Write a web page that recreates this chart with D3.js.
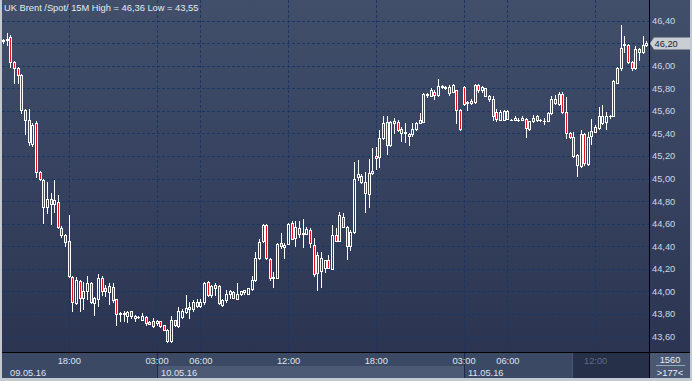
<!DOCTYPE html>
<html>
<head>
<meta charset="utf-8">
<script src="https://cdn.jsdelivr.net/npm/d3@7"></script>
<style>
  body { margin: 0; background: #fff; }
  svg { display: block; }
  text { font-family: "Liberation Sans", Arial, sans-serif; font-size: 9.3px; }
</style>
</head>
<body>
<div id="chart"></div>
<script>
const title = 'UK Brent /Spot/ 15M High = 46,36 Low = 43,55';
const sessions = [
  { date: '09.05.16', start: '13:30', bars: 42 },
  { date: '10.05.16', start: '03:00', bars: 84 },
  { date: '11.05.16', start: '03:00', bars: 51 }
];
const timeTicks = ['03:00', '06:00', '12:00', '18:00'];
const priceTicks = [43.6, 43.8, 44.0, 44.2, 44.4, 44.6, 44.8, 45.0, 45.2, 45.4, 45.6, 45.8, 46.0, 46.2, 46.4];
const lastPrice = 46.20;
const totalBars = '1560';
const shownBars = '>177<';

const opens = [
  46.23, 46.23, 46.25, 46.03, 45.98, 45.92, 45.61, 45.52, 45.31, 45.49,
  45.06, 44.99, 44.75, 44.82, 44.77, 44.79, 44.56, 44.50, 44.45, 44.13,
  43.90, 44.09, 43.94, 44.00, 44.07, 43.90, 43.93, 44.12, 44.03, 43.99,
  44.04, 43.93, 43.80, 43.80, 43.78, 43.83, 43.76, 43.77, 43.75, 43.77,
  43.73, 43.74, 43.72, 43.74, 43.70, 43.66, 43.56, 43.75, 43.69, 43.77,
  43.82, 43.86, 43.84, 43.91, 43.87, 43.91, 44.08, 43.97, 44.06, 44.05,
  43.88, 43.92, 43.98, 43.99, 43.93, 43.98, 43.99, 43.98, 44.02, 44.10,
  44.30, 44.45, 44.59, 44.29, 44.12, 44.12, 44.43, 44.39, 44.42, 44.61,
  44.47, 44.56, 44.51, 44.51, 44.54, 44.41, 44.32, 44.18, 44.21, 44.28,
  44.20, 44.50, 44.45, 44.66, 44.57, 44.40, 44.53, 45.01, 45.02, 44.97,
  44.86, 45.05, 45.20, 45.19, 45.36, 45.50, 45.30, 45.49, 45.50, 45.44,
  45.40, 45.39, 45.39, 45.44, 45.49, 45.50, 45.74, 45.73, 45.77, 45.74,
  45.81, 45.80, 45.81, 45.77, 45.78, 45.61, 45.81, 45.68, 45.67, 45.68,
  45.83, 45.78, 45.80, 45.73, 45.70, 45.59, 45.52, 45.52, 45.60, 45.52,
  45.52, 45.52, 45.52, 45.53, 45.44, 45.51, 45.55, 45.52, 45.51, 45.51,
  45.58, 45.70, 45.66, 45.75, 45.59, 45.40, 45.37, 45.21, 45.11, 45.39,
  45.13, 45.38, 45.41, 45.45, 45.49, 45.50, 45.55, 45.55, 45.85, 45.98,
  46.18, 46.18, 46.03, 45.98, 46.15, 46.12, 46.18
];
const highs = [
  46.24, 46.29, 46.27, 46.04, 45.99, 45.93, 45.62, 45.62, 45.49, 45.51,
  45.07, 45.00, 44.97, 44.87, 44.99, 44.85, 44.58, 44.51, 44.68, 44.14,
  44.13, 44.10, 44.08, 44.14, 44.08, 43.95, 44.15, 44.14, 44.06, 44.07,
  44.07, 43.93, 43.82, 43.83, 43.83, 43.83, 43.79, 43.78, 43.81, 43.78,
  43.74, 43.76, 43.75, 43.74, 43.70, 43.67, 43.78, 43.75, 43.86, 43.84,
  43.97, 43.91, 43.92, 43.93, 43.93, 44.08, 44.09, 44.06, 44.07, 44.06,
  43.93, 44.01, 44.01, 44.00, 44.07, 44.00, 44.01, 44.03, 44.14, 44.35,
  44.46, 44.60, 44.60, 44.30, 44.17, 44.43, 44.52, 44.43, 44.61, 44.62,
  44.62, 44.62, 44.64, 44.57, 44.56, 44.47, 44.35, 44.35, 44.28, 44.32,
  44.59, 44.56, 44.70, 44.69, 44.58, 44.54, 45.15, 45.16, 45.04, 45.06,
  45.17, 45.27, 45.28, 45.43, 45.55, 45.55, 45.51, 45.54, 45.52, 45.46,
  45.49, 45.40, 45.49, 45.50, 45.58, 45.76, 45.76, 45.80, 45.78, 45.88,
  45.83, 45.82, 45.83, 45.84, 45.78, 45.62, 45.82, 45.69, 45.70, 45.84,
  45.84, 45.82, 45.80, 45.74, 45.73, 45.62, 45.61, 45.61, 45.61, 45.53,
  45.55, 45.54, 45.55, 45.54, 45.51, 45.56, 45.56, 45.53, 45.54, 45.59,
  45.73, 45.74, 45.77, 45.77, 45.72, 45.41, 45.41, 45.22, 45.43, 45.40,
  45.41, 45.53, 45.47, 45.63, 45.65, 45.59, 45.56, 45.87, 45.99, 46.36,
  46.26, 46.19, 46.04, 46.17, 46.16, 46.26, 46.22
];
const lows = [
  46.20, 46.18, 45.99, 45.85, 45.85, 45.58, 45.39, 45.30, 45.29, 45.01,
  44.99, 44.61, 44.69, 44.60, 44.70, 44.56, 44.48, 44.40, 44.13, 43.83,
  43.89, 43.83, 43.84, 43.93, 43.90, 43.79, 43.87, 43.97, 43.96, 43.89,
  43.91, 43.70, 43.74, 43.74, 43.73, 43.76, 43.74, 43.76, 43.75, 43.70,
  43.71, 43.68, 43.70, 43.68, 43.66, 43.55, 43.55, 43.69, 43.68, 43.76,
  43.81, 43.76, 43.83, 43.86, 43.86, 43.89, 43.96, 43.95, 43.97, 43.89,
  43.87, 43.91, 43.94, 43.94, 43.93, 43.97, 43.98, 43.98, 44.01, 44.09,
  44.29, 44.44, 44.29, 44.10, 44.04, 44.12, 44.38, 44.30, 44.42, 44.46,
  44.40, 44.48, 44.39, 44.51, 44.39, 44.14, 44.01, 44.04, 44.17, 44.21,
  44.20, 44.45, 44.45, 44.57, 44.29, 44.37, 44.52, 44.99, 44.96, 44.70,
  44.75, 45.04, 45.08, 45.10, 45.35, 45.22, 45.29, 45.40, 45.42, 45.33,
  45.32, 45.30, 45.38, 45.43, 45.49, 45.50, 45.72, 45.73, 45.70, 45.73,
  45.80, 45.79, 45.74, 45.77, 45.49, 45.43, 45.65, 45.61, 45.66, 45.67,
  45.77, 45.77, 45.73, 45.69, 45.52, 45.51, 45.52, 45.52, 45.53, 45.52,
  45.52, 45.51, 45.52, 45.37, 45.43, 45.50, 45.51, 45.51, 45.48, 45.51,
  45.57, 45.66, 45.65, 45.58, 45.36, 45.36, 45.19, 45.02, 45.10, 45.12,
  45.12, 45.31, 45.41, 45.44, 45.48, 45.44, 45.54, 45.55, 45.85, 45.96,
  46.12, 46.02, 45.96, 45.97, 46.05, 46.11, 46.17
];
const closes = [
  46.22, 46.24, 46.03, 45.98, 45.92, 45.61, 45.52, 45.32, 45.47, 45.06,
  45.00, 44.75, 44.82, 44.77, 44.81, 44.57, 44.50, 44.44, 44.14, 43.91,
  44.10, 43.94, 44.00, 44.07, 43.91, 43.94, 44.12, 44.00, 44.00, 44.05,
  43.92, 43.80, 43.81, 43.81, 43.82, 43.78, 43.78, 43.77, 43.78, 43.72,
  43.71, 43.69, 43.74, 43.69, 43.66, 43.56, 43.75, 43.70, 43.83, 43.83,
  43.85, 43.84, 43.91, 43.87, 43.91, 44.07, 43.97, 44.05, 44.03, 43.90,
  43.92, 43.98, 44.00, 43.94, 43.98, 44.00, 44.01, 44.03, 44.10, 44.30,
  44.44, 44.59, 44.30, 44.12, 44.13, 44.42, 44.40, 44.41, 44.60, 44.46,
  44.57, 44.51, 44.52, 44.55, 44.43, 44.15, 44.16, 44.30, 44.28, 44.21,
  44.50, 44.45, 44.68, 44.57, 44.40, 44.53, 45.00, 45.04, 44.97, 44.87,
  45.05, 45.07, 45.18, 45.36, 45.49, 45.30, 45.50, 45.51, 45.43, 45.40,
  45.41, 45.38, 45.44, 45.49, 45.52, 45.75, 45.75, 45.78, 45.74, 45.82,
  45.82, 45.81, 45.76, 45.83, 45.61, 45.44, 45.66, 45.67, 45.69, 45.83,
  45.78, 45.81, 45.73, 45.70, 45.55, 45.53, 45.59, 45.60, 45.53, 45.52,
  45.54, 45.52, 45.54, 45.45, 45.51, 45.54, 45.52, 45.52, 45.51, 45.58,
  45.70, 45.67, 45.75, 45.59, 45.40, 45.37, 45.20, 45.12, 45.39, 45.14,
  45.37, 45.42, 45.46, 45.55, 45.55, 45.55, 45.55, 45.86, 45.98, 46.16,
  46.19, 46.03, 45.98, 46.15, 46.12, 46.18, 46.20
];

const W = 692, H = 381;
const plot = { left: 2, right: 649, top: 0, bottom: 352 };
const axisBottom = 378;
const pad2 = d3.format('02');
const comma = v => d3.format('.2f')(v).replace('.', ',');

// one entry per 15 minute bar, time label taken from its session
const bars = [];
sessions.forEach((s, si) => {
  const [hh, mm] = s.start.split(':').map(Number);
  for (let k = 0; k < s.bars; k++) {
    const m = hh * 60 + mm + k * 15;
    bars.push({
      session: si,
      time: pad2(Math.floor(m / 60)) + ':' + pad2(m % 60),
      o: opens[bars.length], h: highs[bars.length], l: lows[bars.length], c: closes[bars.length]
    });
  }
});

const x = d3.scaleLinear().domain([0, bars.length - 1]).range([3, 646.3]);
const y = d3.scaleLinear().domain([43.6, 46.4]).range([336.5, 20.5]);
const px = v => Math.round(x(v));
const py = v => Math.round(y(v));

const svg = d3.select('#chart').append('svg')
  .attr('width', W)
  .attr('height', H)
  .attr('shape-rendering', 'crispEdges');

const grad = svg.append('defs').append('linearGradient')
  .attr('id', 'bg').attr('x1', 0).attr('y1', 0).attr('x2', 0).attr('y2', 1);
grad.append('stop').attr('offset', '0%').attr('stop-color', '#414f6b');
grad.append('stop').attr('offset', '100%').attr('stop-color', '#2b3552');

// frame + backgrounds
svg.append('rect').attr('width', W).attr('height', H).attr('fill', '#c4c8d0');
svg.append('rect').attr('x', 2).attr('y', 0).attr('width', 688).attr('height', plot.bottom)
  .attr('fill', 'url(#bg)');
svg.append('rect').attr('x', 2).attr('y', plot.bottom).attr('width', 688).attr('height', axisBottom - plot.bottom)
  .attr('fill', '#3c4965');

const starts = bars.map((b, i) => i).filter(i => i === 0 || bars[i].session !== bars[i - 1].session);
const ticks = bars.map((b, i) => i).filter(i => bars[i].session > 0 || i > 0)
  .filter(i => timeTicks.includes(bars[i].time));

// session bands in the date row
starts.forEach((s, k) => {
  if (k % 2 === 0) return;
  const end = k + 1 < starts.length ? starts[k + 1] : bars.length;
  svg.append('rect')
    .attr('x', px(s)).attr('y', 366)
    .attr('width', px(end) - px(s)).attr('height', axisBottom - 366)
    .attr('fill', '#4d5a75');
});
// dimmed tail of the time axis
svg.append('rect').attr('x', 573).attr('y', plot.bottom + 1)
  .attr('width', plot.right - 573).attr('height', axisBottom - plot.bottom - 1)
  .attr('fill', '#263049');
svg.append('line').attr('x1', 572.5).attr('x2', 572.5).attr('y1', plot.bottom).attr('y2', axisBottom)
  .attr('stroke', '#4a5670');

// grid
const grid = svg.append('g').attr('stroke', '#1c3664').attr('stroke-dasharray', '3,2');
grid.selectAll('line.h').data(priceTicks).enter().append('line')
  .attr('x1', plot.left).attr('x2', plot.right)
  .attr('y1', d => py(d) + 0.5).attr('y2', d => py(d) + 0.5);
grid.selectAll('line.v').data(ticks).enter().append('line')
  .attr('x1', d => px(d) + 0.5).attr('x2', d => px(d) + 0.5)
  .attr('y1', plot.top).attr('y2', plot.bottom);

// day separators in the axis
svg.selectAll('line.day').data(starts.slice(1)).enter().append('line')
  .attr('x1', d => px(d) + 0.5).attr('x2', d => px(d) + 0.5)
  .attr('y1', plot.bottom).attr('y2', axisBottom)
  .attr('stroke', '#1d2b4a');

// candles
const candles = svg.append('g');
bars.forEach((b, i) => {
  const cx = px(i);
  const top = py(Math.max(b.o, b.c));
  const bot = py(Math.min(b.o, b.c));
  const g = candles.append('g').attr('stroke', '#fff');
  if (bot - top < 1) {
    g.append('line').attr('x1', cx + 0.5).attr('x2', cx + 0.5)
      .attr('y1', py(b.h)).attr('y2', py(b.l) + 1);
    g.append('line').attr('x1', cx - 1).attr('x2', cx + 2)
      .attr('y1', top + 0.5).attr('y2', top + 0.5);
    return;
  }
  if (py(b.h) < top) {
    g.append('line').attr('x1', cx + 0.5).attr('x2', cx + 0.5)
      .attr('y1', py(b.h)).attr('y2', top);
  }
  if (py(b.l) > bot) {
    g.append('line').attr('x1', cx + 0.5).attr('x2', cx + 0.5)
      .attr('y1', bot + 1).attr('y2', py(b.l) + 1);
  }
  g.append('rect')
    .attr('x', cx - 0.5).attr('y', top + 0.5)
    .attr('width', 2).attr('height', bot - top)
    .attr('fill', b.c < b.o ? '#e8101a' : 'none');
});

// frame lines
svg.append('line').attr('x1', plot.right + 0.5).attr('x2', plot.right + 0.5)
  .attr('y1', 0).attr('y2', axisBottom).attr('stroke', '#000');
svg.append('line').attr('x1', plot.left).attr('x2', 690)
  .attr('y1', plot.bottom + 0.5).attr('y2', plot.bottom + 0.5).attr('stroke', '#000');

// price axis
svg.append('g').selectAll('text').data(priceTicks.filter(d => d !== lastPrice)).enter().append('text')
  .attr('x', 652).attr('y', d => y(d) + 3.5)
  .attr('fill', '#cdd7e8')
  .text(comma);

const ly = py(lastPrice) + 0.5;
svg.append('path')
  .attr('d', `M650,${ly} L654,${ly - 6} L690,${ly - 6} L690,${ly + 6} L654,${ly + 6} Z`)
  .attr('fill', '#c9cdd4').attr('shape-rendering', 'auto');
svg.append('text').attr('x', 654.5).attr('y', ly + 3.5).attr('fill', '#1b2230').text(comma(lastPrice));

// corner box
svg.append('rect').attr('x', plot.right + 1).attr('y', plot.bottom + 1)
  .attr('width', 690 - plot.right - 1).attr('height', axisBottom - plot.bottom - 1)
  .attr('fill', '#4a5873');
svg.append('line').attr('x1', 656).attr('x2', 685).attr('y1', 365.5).attr('y2', 365.5)
  .attr('stroke', '#9aa5b8');
svg.append('text').attr('x', 670).attr('y', 363).attr('text-anchor', 'middle')
  .attr('fill', '#e8edf5').text(totalBars);
svg.append('text').attr('x', 670).attr('y', 376).attr('text-anchor', 'middle')
  .attr('fill', '#e8edf5').text(shownBars);

// time axis labels
svg.append('g').selectAll('text').data(ticks).enter().append('text')
  .attr('x', d => x(d) + 0.5).attr('y', 364)
  .attr('text-anchor', 'middle')
  .attr('fill', d => x(d) > 573 ? '#5f6b85' : '#dde4ef')
  .text(d => bars[d].time);
svg.append('g').selectAll('text').data(starts).enter().append('text')
  .attr('x', d => Math.max(x(d) + 4.5, 10)).attr('y', 376)
  .attr('fill', '#dde4ef')
  .text(d => sessions[bars[d].session].date);

// title
svg.append('text').attr('x', 4).attr('y', 11)
  .attr('fill', '#e6ebf3')
  .text(title);
</script>
</body>
</html>
